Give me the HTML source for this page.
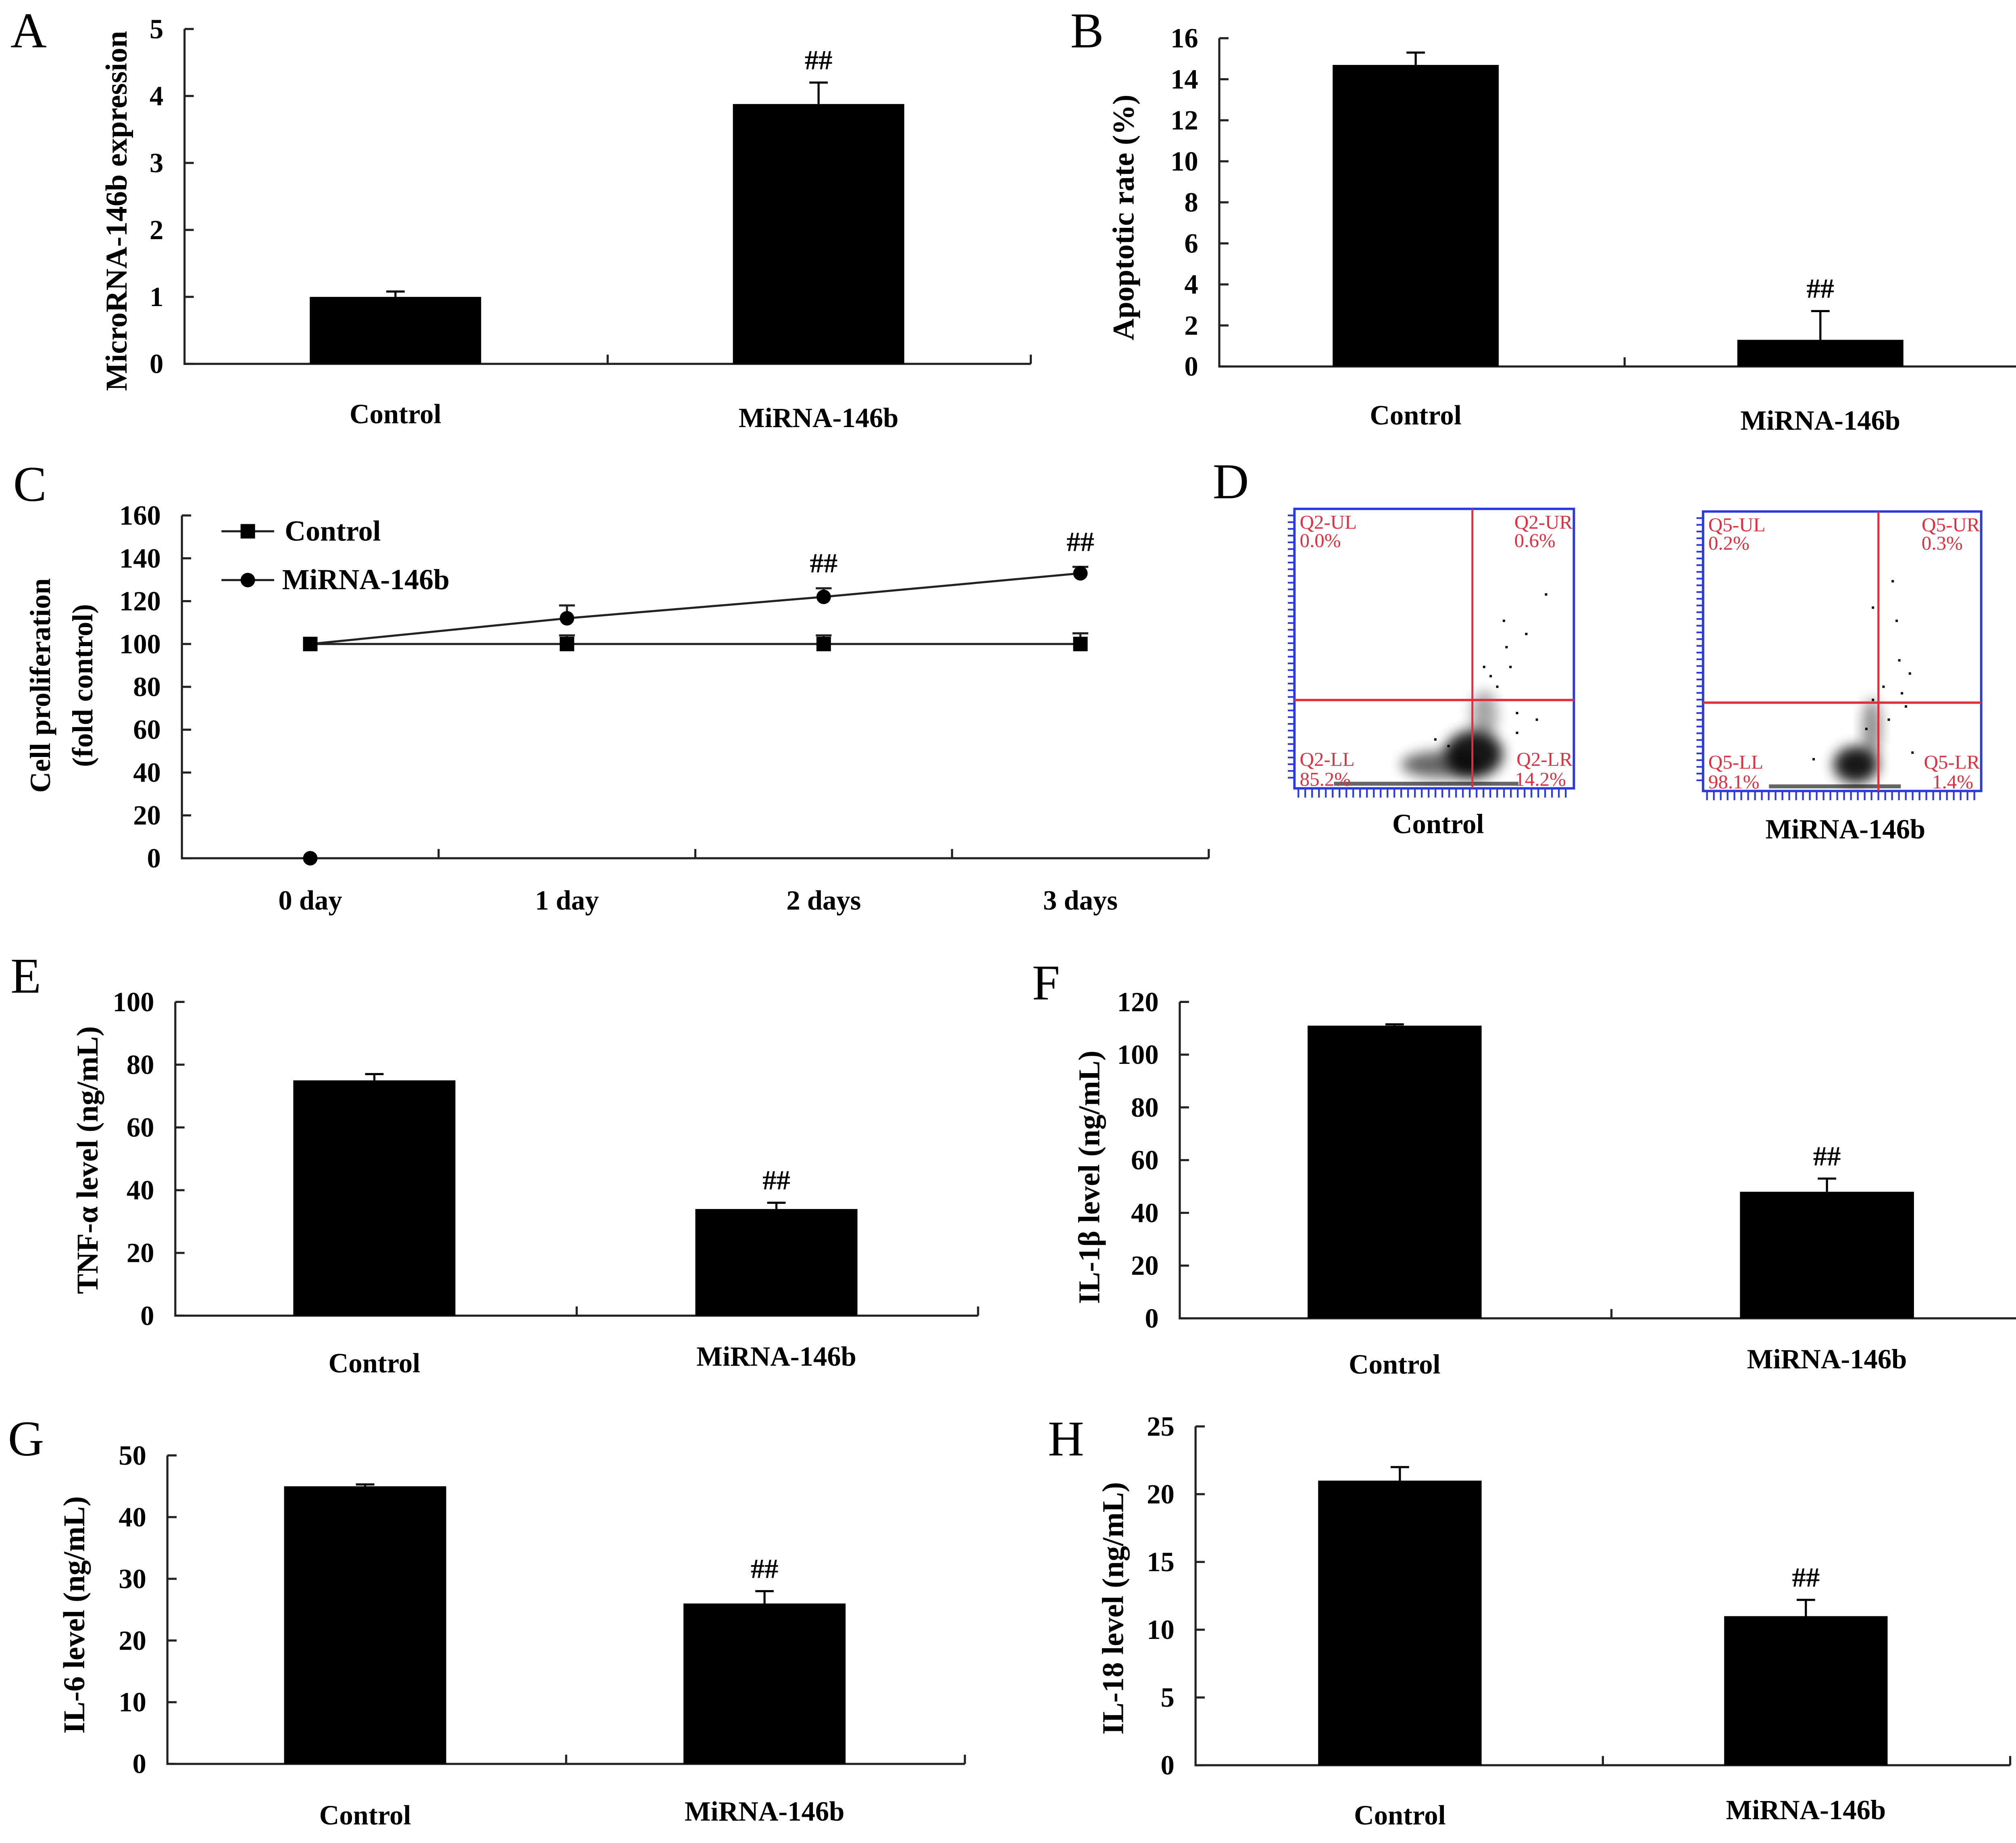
<!DOCTYPE html>
<html><head><meta charset="utf-8"><style>
html,body{margin:0;padding:0;background:#fff;}
svg{display:block;}
text{font-family:"Liberation Serif",serif;}
</style></head><body>
<svg id="fig" width="5100" height="4570" viewBox="0 0 1560 1398" preserveAspectRatio="none" xmlns="http://www.w3.org/2000/svg">
<rect x="0" y="0" width="1560" height="1398" fill="#fff"/>
<g id="root"></g>
</svg>
<script>
// ---- Data ----
const barCategories = ["Control", "MiRNA-146b"];
const aValues = [1.0, 3.88];
const aErrors = [0.08, 0.32];
const aTicks = [0, 1, 2, 3, 4, 5];
const bValues = [14.7, 1.3];
const bErrors = [0.6, 1.4];
const bTicks = [0, 2, 4, 6, 8, 10, 12, 14, 16];
const eValues = [75, 34];
const eErrors = [2, 2];
const eTicks = [0, 20, 40, 60, 80, 100];
const fValues = [111, 48];
const fErrors = [0.5, 5];
const fTicks = [0, 20, 40, 60, 80, 100, 120];
const gValues = [45, 26];
const gErrors = [0.3, 2];
const gTicks = [0, 10, 20, 30, 40, 50];
const hValues = [21, 11];
const hErrors = [1, 1.2];
const hTicks = [0, 5, 10, 15, 20, 25];
const cDays = ["0 day", "1 day", "2 days", "3 days"];
const cControl = [100, 100, 100, 100];
const cControlErr = [0, 4, 4, 5];
const cMirna = [100, 112, 122, 133];
const cMirnaErr = [0, 6, 4, 3];
const cTicks = [0, 20, 40, 60, 80, 100, 120, 140, 160];

const NS = "http://www.w3.org/2000/svg";
const root = document.getElementById("root");
function el(tag, attrs, parent, txt) {
  const e = document.createElementNS(NS, tag);
  for (const k in attrs) e.setAttribute(k, attrs[k]);
  if (txt !== undefined) e.textContent = txt;
  (parent || root).appendChild(e);
  return e;
}
function label(letter, x, y) {
  const t = el("text", {x: x, y: y, "font-size": 38}, root, letter);
  
  
}

function barPanel(p) {
  const g = el("g", {});
  
  
  const ymax = p.ticks[p.ticks.length - 1];
  const ys = v => p.y0 - (v / ymax) * (p.y0 - p.ytop);
  const ax = el("path", {d: `M${p.x0},${p.ytop} V${p.y0} H${p.xend}`, stroke: "#222", "stroke-width": 1.6, fill: "none"}, g);
  
  
  p.ticks.forEach(t => {
    const y = ys(t);
    const tk = el("line", {x1: p.x0, x2: p.x0 + 7, y1: y, y2: y, stroke: "#222", "stroke-width": 1.6}, g);
    
    
    const tl = el("text", {x: p.x0 - 16, y: y + 7, "font-size": 21, "font-weight": "bold", "text-anchor": "end"}, g, t);
    
    
  });
  const mid = (p.x0 + p.xend) / 2;
  [mid, p.xend].forEach(x => {
    const tk = el("line", {x1: x, x2: x, y1: p.y0, y2: p.y0 - 7, stroke: "#222", "stroke-width": 1.6}, g);
    
    
  });
  const bw = p.bw;
  barCategories.forEach((c, i) => {
    const cx = p.cx[i];
    const v = p.values[i], e = p.errors[i];
    const b = el("rect", {x: cx - bw / 2, y: ys(v), width: bw, height: p.y0 - ys(v), fill: "#000"}, g);
    
    
    const eb = el("path", {d: `M${cx},${ys(v)} V${ys(v + e)} M${cx - 7},${ys(v + e)} H${cx + 7}`, stroke: "#000", "stroke-width": 1.6, fill: "none"}, g);
    
    
    const xl = el("text", {x: cx, y: p.labY[i], "font-size": 21, "font-weight": "bold", "text-anchor": "middle"}, g, c);
    
    
    if (p.sig[i]) {
      const s = el("text", {x: cx, y: ys(v + e) - 10, "font-size": 21, "font-weight": "bold", "text-anchor": "middle"}, g, "##");
      
      
    }
  });
  const yl = el("text", {x: 0, y: 0, "font-size": 23, "font-weight": "bold", "text-anchor": "middle", transform: `translate(${p.ylx},${p.yly}) rotate(-90)`}, g, p.ylabel);
  
  
}

barPanel({id: "a", x0: 140, xend: 782, y0: 276, ytop: 22, ticks: aTicks, values: aValues, errors: aErrors, cx: [300, 621], bw: 130, labY: [321, 324], sig: [false, true], ylabel: "MicroRNA-146b expression", ylx: 96, yly: 160});
barPanel({id: "b", x0: 925, xend: 1540, y0: 278, ytop: 29, ticks: bTicks, values: bValues, errors: bErrors, cx: [1074, 1381], bw: 126, labY: [322, 326], sig: [false, true], ylabel: "Apoptotic rate (%)", ylx: 860, yly: 165});
barPanel({id: "e", x0: 133, xend: 742, y0: 998, ytop: 760, ticks: eTicks, values: eValues, errors: eErrors, cx: [284, 589], bw: 123, labY: [1041, 1036], sig: [false, true], ylabel: "TNF-α level (ng/mL)", ylx: 74, yly: 880});
barPanel({id: "f", x0: 895, xend: 1550, y0: 1000, ytop: 760, ticks: fTicks, values: fValues, errors: fErrors, cx: [1058, 1386], bw: 132, labY: [1042, 1038], sig: [false, true], ylabel: "IL-1β level (ng/mL)", ylx: 834, yly: 893});
barPanel({id: "g", x0: 127, xend: 732, y0: 1338, ytop: 1104, ticks: gTicks, values: gValues, errors: gErrors, cx: [277, 580], bw: 123, labY: [1384, 1381], sig: [false, true], ylabel: "IL-6 level (ng/mL)", ylx: 64, yly: 1225});
barPanel({id: "h", x0: 907, xend: 1525, y0: 1339, ytop: 1082, ticks: hTicks, values: hValues, errors: hErrors, cx: [1062, 1370], bw: 124, labY: [1384, 1380], sig: [false, true], ylabel: "IL-18 level (ng/mL)", ylx: 852, yly: 1220});

// ---- Panel C line chart ----
(function () {
  const g = el("g", {});
  
  
  const x0 = 138, xend = 917, y0 = 651, ytop = 391;
  const ys = v => y0 - (v / 160) * (y0 - ytop);
  const step = (xend - x0) / 4;
  const xs = i => x0 + step * (i + 0.5);
  const ax = el("path", {d: `M${x0},${ytop} V${y0} H${xend}`, stroke: "#222", "stroke-width": 1.6, fill: "none"}, g);
  
  
  cTicks.forEach(t => {
    const tk = el("line", {x1: x0, x2: x0 + 7, y1: ys(t), y2: ys(t), stroke: "#222", "stroke-width": 1.6}, g);
    
    
    const tl = el("text", {x: x0 - 16, y: ys(t) + 7, "font-size": 21, "font-weight": "bold", "text-anchor": "end"}, g, t);
    
    
  });
  for (let i = 1; i <= 4; i++) {
    const x = x0 + step * i;
    const tk = el("line", {x1: x, x2: x, y1: y0, y2: y0 - 7, stroke: "#222", "stroke-width": 1.6}, g);
    
    
  }
  cDays.forEach((d, i) => {
    const t = el("text", {x: xs(i), y: 690, "font-size": 21, "font-weight": "bold", "text-anchor": "middle"}, g, d);
    
    
  });
  function series(vals, errs, shape, name) {
    const sg = el("g", {}, g);
    
    
    const ln = el("polyline", {points: vals.map((v, i) => xs(i) + "," + ys(v)).join(" "), stroke: "#222", "stroke-width": 1.6, fill: "none"}, sg);
    
    
    vals.forEach((v, i) => {
      if (errs[i] > 0) {
        const eb = el("path", {d: `M${xs(i)},${ys(v)} V${ys(v + errs[i])} M${xs(i) - 6},${ys(v + errs[i])} H${xs(i) + 6}`, stroke: "#222", "stroke-width": 1.6, fill: "none"}, sg);
        
        
      }
      let m;
      if (shape === "sq") m = el("rect", {x: xs(i) - 5.5, y: ys(v) - 5.5, width: 11, height: 11, fill: "#000"}, sg);
      else m = el("circle", {cx: xs(i), cy: ys(v), r: 5.5, fill: "#000"}, sg);
      
      
    });
  }
  series(cControl, cControlErr, "sq", "control");
  series(cMirna, cMirnaErr, "ci", "mirna");
  const stray = el("circle", {cx: xs(0), cy: ys(0), r: 5.5, fill: "#000"}, g);
  
  
  [2, 3].forEach(i => {
    const s = el("text", {x: xs(i), y: ys(cMirna[i] + cMirnaErr[i]) - 12, "font-size": 21, "font-weight": "bold", "text-anchor": "middle"}, g, "##");
    
    
  });
  const lg = el("g", {}, g);
  
  
  el("line", {x1: 168, x2: 208, y1: 403, y2: 403, stroke: "#222", "stroke-width": 1.6}, lg);
  el("rect", {x: 182.5, y: 397.5, width: 11, height: 11, fill: "#000"}, lg);
  const l1 = el("text", {x: 216, y: 410, "font-size": 22, "font-weight": "bold"}, lg, "Control");
  
  
  el("line", {x1: 168, x2: 208, y1: 440, y2: 440, stroke: "#222", "stroke-width": 1.6}, lg);
  el("circle", {cx: 188, cy: 440, r: 5.5, fill: "#000"}, lg);
  const l2 = el("text", {x: 214, y: 447, "font-size": 22, "font-weight": "bold"}, lg, "MiRNA-146b");
  
  
  const y1 = el("text", {x: 0, y: 0, "font-size": 22, "font-weight": "bold", "text-anchor": "middle", transform: "translate(38,520) rotate(-90)"}, g, "Cell proliferation");
  
  
  const y2 = el("text", {x: 0, y: 0, "font-size": 22, "font-weight": "bold", "text-anchor": "middle", transform: "translate(70,520) rotate(-90)"}, g, "(fold control)");
  
  
})();

// ---- Panel D flow cytometry ----
const flowNames = ["Control", "MiRNA-146b"];
const flowPrefix = ["Q2", "Q5"];
const flowUL = ["0.0%", "0.2%"];
const flowUR = ["0.6%", "0.3%"];
const flowLL = ["85.2%", "98.1%"];
const flowLR = ["14.2%", "1.4%"];
(function () {
  const boxes = [{x: 982, y: 386, w: 212, h: 212, vx: 1117, hy: 531, cx: 1118, cy: 572, lx: 1091, ly: 632},
                 {x: 1292, y: 388, w: 211, h: 212, vx: 1425, hy: 533, cx: 1408, cy: 580, lx: 1400, ly: 636}];
  const dots = [
    [[1140, 470], [1157, 480], [1172, 450], [1135, 520], [1145, 505], [1150, 540], [1165, 545], [1125, 505], [1098, 565], [1088, 560], [1150, 555], [1142, 490], [1130, 512]],
    [[1435, 440], [1438, 470], [1440, 500], [1448, 510], [1420, 460], [1428, 520], [1432, 545], [1445, 535], [1415, 552], [1420, 530], [1442, 525], [1450, 570], [1375, 575]]
  ];
  const defs = el("defs", {});
  const f = el("filter", {id: "blur", x: "-50%", y: "-50%", width: "200%", height: "200%"}, defs);
  el("feGaussianBlur", {stdDeviation: 5}, f);
  boxes.forEach((b, i) => {
    const g = el("g", {});
    
    
    if (i === 0) {
      el("ellipse", {cx: b.cx, cy: b.cy, rx: 22, ry: 18, fill: "#000", filter: "url(#blur)", opacity: 0.9}, g);
      el("ellipse", {cx: b.cx - 25, cy: b.cy + 8, rx: 30, ry: 10, fill: "#000", filter: "url(#blur)", opacity: 0.6}, g);
      el("ellipse", {cx: b.cx + 8, cy: b.cy - 30, rx: 10, ry: 18, fill: "#000", filter: "url(#blur)", opacity: 0.35}, g);
      el("rect", {x: b.x + 30, y: b.y + b.h - 5, width: 140, height: 3, fill: "#000", opacity: 0.6}, g);
    } else {
      el("ellipse", {cx: b.cx, cy: b.cy, rx: 17, ry: 14, fill: "#000", filter: "url(#blur)", opacity: 0.9}, g);
      el("ellipse", {cx: b.cx + 12, cy: b.cy - 28, rx: 7, ry: 22, fill: "#000", filter: "url(#blur)", opacity: 0.45}, g);
      el("rect", {x: b.x + 50, y: b.y + b.h - 5, width: 100, height: 3, fill: "#000", opacity: 0.6}, g);
    }
    dots[i].forEach(d => el("rect", {x: d[0], y: d[1], width: 1.8, height: 1.8, fill: "#000"}, g));
    el("rect", {x: b.x, y: b.y, width: b.w, height: b.h, fill: "none", stroke: "#2a3ae0", "stroke-width": 1.8}, g);
    for (let k = 0; k < 40; k++) {
      el("line", {x1: b.x - 5, x2: b.x, y1: b.y + 5 + k * 5.1, y2: b.y + 5 + k * 5.1, stroke: "#2a3ae0", "stroke-width": 1.3}, g);
      el("line", {x1: b.x + 3 + k * 5.2, x2: b.x + 3 + k * 5.2, y1: b.y + b.h, y2: b.y + b.h + 7, stroke: "#2a3ae0", "stroke-width": 1.3}, g);
    }
    el("line", {x1: b.vx, x2: b.vx, y1: b.y, y2: b.y + b.h, stroke: "#e03040", "stroke-width": 1.5}, g);
    el("line", {x1: b.x, x2: b.x + b.w, y1: b.hy, y2: b.hy, stroke: "#e03040", "stroke-width": 1.8}, g);
    const fs = 15, red = "#e03040", p = flowPrefix[i], ff = "Liberation Sans Narrow,Liberation Sans,sans-serif";
    el("text", {x: b.x + 4, y: b.y + 15, "font-size": fs, fill: red, "font-family": ff}, g, p + "-UL");
    el("text", {x: b.x + 4, y: b.y + 29, "font-size": fs, fill: red, "font-family": ff}, g, flowUL[i]);
    el("text", {x: b.x + b.w - 1, y: b.y + 15, "font-size": fs, fill: red, "text-anchor": "end", "font-family": ff}, g, p + "-UR");
    el("text", {x: b.x + b.w - 14, y: b.y + 29, "font-size": fs, fill: red, "text-anchor": "end", "font-family": ff}, g, flowUR[i]);
    el("text", {x: b.x + 4, y: b.y + b.h - 17, "font-size": fs, fill: red, "font-family": ff}, g, p + "-LL");
    el("text", {x: b.x + 4, y: b.y + b.h - 2, "font-size": fs, fill: red, "font-family": ff}, g, flowLL[i]);
    el("text", {x: b.x + b.w - 1, y: b.y + b.h - 17, "font-size": fs, fill: red, "text-anchor": "end", "font-family": ff}, g, p + "-LR");
    el("text", {x: b.x + b.w - 6, y: b.y + b.h - 2, "font-size": fs, fill: red, "text-anchor": "end", "font-family": ff}, g, flowLR[i]);
    const t = el("text", {x: b.lx, y: b.ly, "font-size": 21, "font-weight": "bold", "text-anchor": "middle"}, g, flowNames[i]);
    
    
  });
})();

label("A", 8, 36); label("B", 812, 36); label("C", 10, 380); label("D", 920, 378);
label("E", 8, 753); label("F", 783, 758); label("G", 6, 1104); label("H", 795, 1104);
</script>
</body></html>
